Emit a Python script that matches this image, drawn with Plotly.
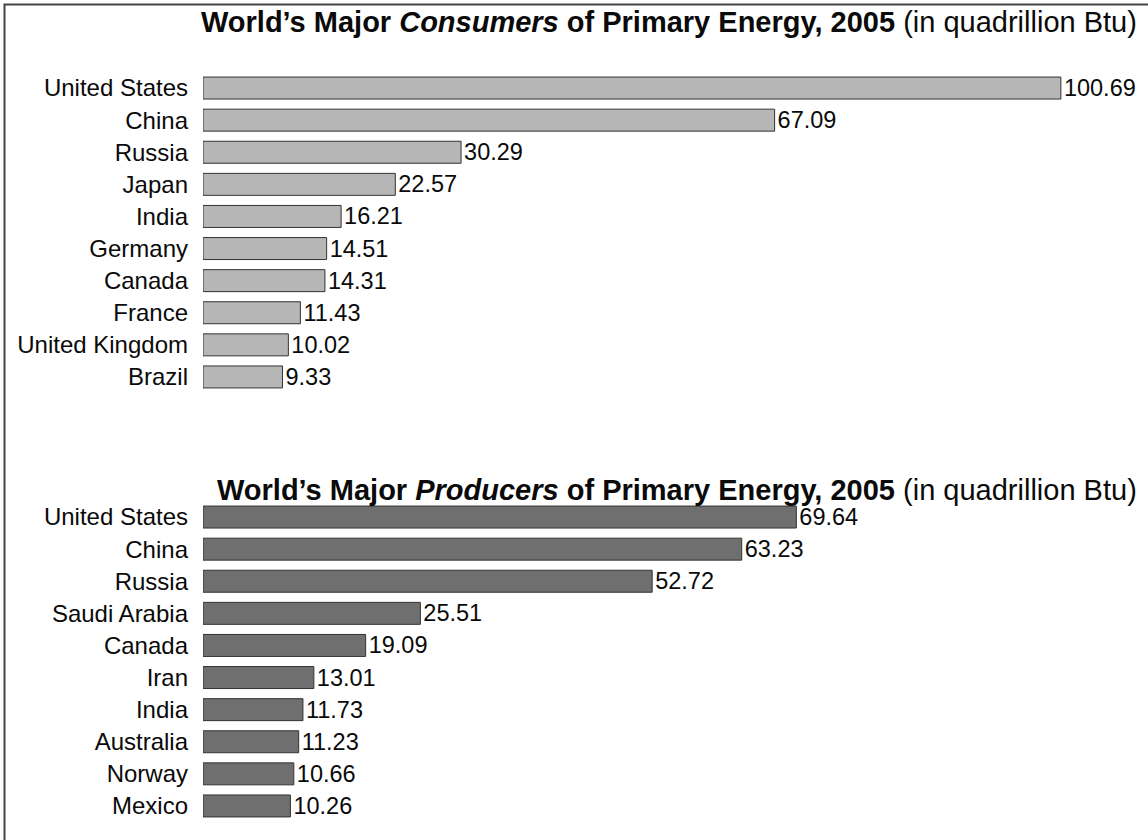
import plotly.graph_objects as go
from plotly.subplots import make_subplots

consumer_countries = ["United States", "China", "Russia", "Japan", "India",
                      "Germany", "Canada", "France", "United Kingdom", "Brazil"]
consumer_values = [100.69, 67.09, 30.29, 22.57, 16.21, 14.51, 14.31, 11.43, 10.02, 9.33]

producer_countries = ["United States", "China", "Russia", "Saudi Arabia", "Canada",
                      "Iran", "India", "Australia", "Norway", "Mexico"]
producer_values = [69.64, 63.23, 52.72, 25.51, 19.09, 13.01, 11.73, 11.23, 10.66, 10.26]

title_top = "<b>World’s Major <i>Consumers</i> of Primary Energy, 2005</b> (in quadrillion Btu)"
title_bottom = "<b>World’s Major <i>Producers</i> of Primary Energy, 2005</b> (in quadrillion Btu)"

W, H = 1148, 840
ML, MR, MT, MB = 203, 0, 72, 18
PW, PH = W - ML - MR, H - MT - MB

fig = make_subplots(rows=2, cols=1)

fig.add_trace(go.Bar(
    x=consumer_values, y=consumer_countries, orientation="h",
    marker=dict(color="#b6b6b6", line=dict(color="#333333", width=1)),
    text=[f"{v:.2f}" for v in consumer_values], textposition="outside",
    constraintext="none",
    textfont=dict(size=23.5, color="#0a0a0a"), cliponaxis=False, showlegend=False,
), row=1, col=1)

fig.add_trace(go.Bar(
    x=producer_values, y=producer_countries, orientation="h",
    marker=dict(color="#6f6f6f", line=dict(color="#333333", width=1)),
    text=[f"{v:.2f}" for v in producer_values], textposition="outside",
    constraintext="none",
    textfont=dict(size=23.5, color="#0a0a0a"), cliponaxis=False, showlegend=False,
), row=2, col=1)

xmax = PW / 8.52
axis_x = dict(range=[0, xmax], showgrid=False, zeroline=False, showticklabels=False,
              showline=False, ticks="")
axis_y = dict(showgrid=False, zeroline=False, showline=False, ticks="",
              autorange="reversed", ticklabelstandoff=14,
              tickfont=dict(size=24, color="#0a0a0a"))

def px_to_py(ypx):
    return (H - MB - ypx) / PH

def px_to_px(xpx):
    return (xpx - ML) / PW

fig.update_layout(
    width=W, height=H,
    margin=dict(l=ML, r=MR, t=MT, b=MB),
    paper_bgcolor="white", plot_bgcolor="white",
    font=dict(family="Liberation Sans, Arial, Helvetica, sans-serif", color="#0a0a0a"),
    bargap=0.315,
    xaxis=dict(axis_x, domain=[0, 1]),
    xaxis2=dict(axis_x, domain=[0, 1]),
    yaxis=dict(axis_y, domain=[px_to_py(72 + 321), 1],
               categoryorder="array", categoryarray=consumer_countries),
    yaxis2=dict(axis_y, domain=[0, px_to_py(501)],
                categoryorder="array", categoryarray=producer_countries),
    annotations=[
        dict(text=title_top, xref="paper", yref="paper", x=px_to_px(1139), y=px_to_py(22),
             xanchor="right", yanchor="middle", showarrow=False,
             font=dict(size=29, color="#0a0a0a")),
        dict(text=title_bottom, xref="paper", yref="paper", x=px_to_px(1139), y=px_to_py(490),
             xanchor="right", yanchor="middle", showarrow=False,
             font=dict(size=29, color="#0a0a0a")),
    ],
    shapes=[
        dict(type="rect", xref="paper", yref="paper", layer="above",
             x0=px_to_px(4.5), x1=px_to_px(W + 20), y0=px_to_py(H + 20), y1=px_to_py(4.5),
             fillcolor="rgba(0,0,0,0)",
             line=dict(color="#444", width=2)),
    ],
)

fig.write_html("out.html",
               config={"displayModeBar": False},
               post_script="document.body.style.margin='0';document.body.style.overflow='hidden';")
